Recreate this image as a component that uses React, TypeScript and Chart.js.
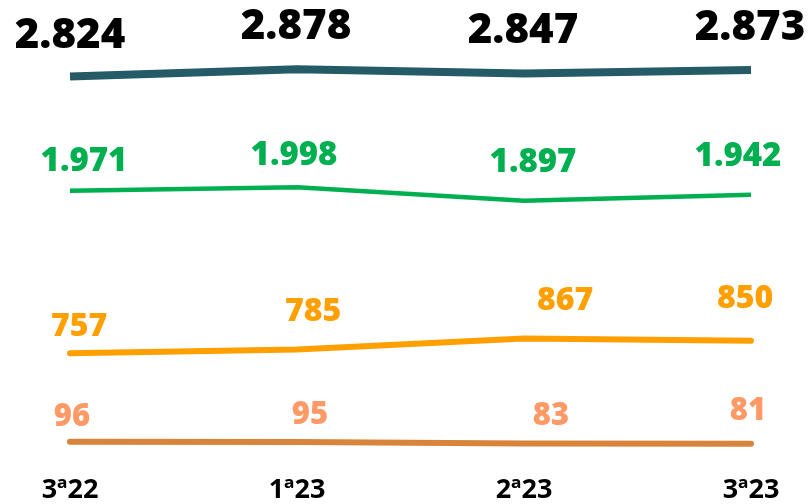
import React, { useEffect, useRef } from "react";
import { Chart, registerables } from "chart.js";

Chart.register(...registerables);

// ---- data ----
const PERIODS = ["3ª22", "1ª23", "2ª23", "3ª23"];
const TOTAL = [2824, 2878, 2847, 2873];
const SERIES_GREEN = [1971, 1998, 1897, 1942];
const SERIES_ORANGE = [757, 785, 867, 850];
const SERIES_SALMON = [96, 95, 83, 81];

// ---- styles ----
const FONT = "'Open Sans', 'Liberation Sans', sans-serif";

const STYLES = [
  { line: "#245B67", width: 8, cap: "butt", label: "#000000", size: 42 },
  { line: "#00B050", width: 4.5, cap: "butt", label: "#00B050", size: 33 },
  { line: "#FFA000", width: 6, cap: "round", label: "#FFA000", size: 32 },
  { line: "#D9843B", width: 6, cap: "round", label: "#FF9966", size: 31 },
];

// label centre offsets (dx, dy) relative to each point
const LABEL_OFFSETS = [
  [[0, -44], [-1, -45], [-1, -45], [-1, -45]],
  [[14, -32], [-3, -34], [9, -40], [-13, -40]],
  [[9, -29], [16, -40], [41, -40], [-6, -44]],
  [[2, -27], [13, -29], [27, -30], [-3, -35]],
];

function fmt(v: number): string {
  const s = String(Math.round(v));
  return s.replace(/\B(?=(\d{3})+(?!\d))/g, ".");
}

const valueLabels = {
  id: "valueLabels",
  afterDatasetsDraw(chart: any) {
    const ctx = chart.ctx;
    chart.data.datasets.forEach((ds: any, di: number) => {
      const meta = chart.getDatasetMeta(di);
      const st = STYLES[di];
      ctx.save();
      ctx.font = `800 ${st.size}px ${FONT}`;
      ctx.fillStyle = st.label;
      ctx.textAlign = "center";
      ctx.textBaseline = "alphabetic";
      meta.data.forEach((pt: any, i: number) => {
        const [dx, dy] = LABEL_OFFSETS[di][i];
        const cy = pt.y + dy;
        ctx.fillText(fmt(ds.data[i]), pt.x + dx, cy + st.size * 0.357);
      });
      ctx.restore();
    });
  },
};

export default function App() {
  const ref = useRef<HTMLCanvasElement | null>(null);

  useEffect(() => {
    if (!ref.current) return;
    const seriesList = [TOTAL, SERIES_GREEN, SERIES_ORANGE, SERIES_SALMON];
    const chart = new Chart(ref.current, {
      type: "line",
      data: {
        labels: PERIODS,
        datasets: seriesList.map((d, i) => ({
          data: d,
          borderColor: STYLES[i].line,
          borderWidth: STYLES[i].width,
          borderCapStyle: STYLES[i].cap as any,
          borderJoinStyle: "round" as any,
          pointRadius: 0,
          tension: 0,
          fill: false,
          clip: false as any,
        })),
      },
      options: {
        animation: false,
        responsive: false,
        maintainAspectRatio: false,
        layout: { padding: { left: 70, right: 60, top: 53, bottom: -23 } },
        plugins: { legend: { display: false }, tooltip: { enabled: false } },
        scales: {
          x: {
            offset: false,
            grid: { display: false, drawTicks: false },
            border: { display: false },
            ticks: {
              color: "#000000",
              font: { family: FONT, size: 27, weight: "bold" },
              padding: 20,
              maxRotation: 0,
              autoSkip: false,
            },
          },
          y: { display: false, min: 0, max: 3000 },
        },
      },
      plugins: [valueLabels],
    });
    return () => chart.destroy();
  }, []);

  return (
    <div style={{ position: "absolute", left: 0, top: 0, width: 811, height: 504, background: "#ffffff" }}>
      <canvas ref={ref} width={811} height={504} style={{ width: 811, height: 504, display: "block" }} />
    </div>
  );
}
